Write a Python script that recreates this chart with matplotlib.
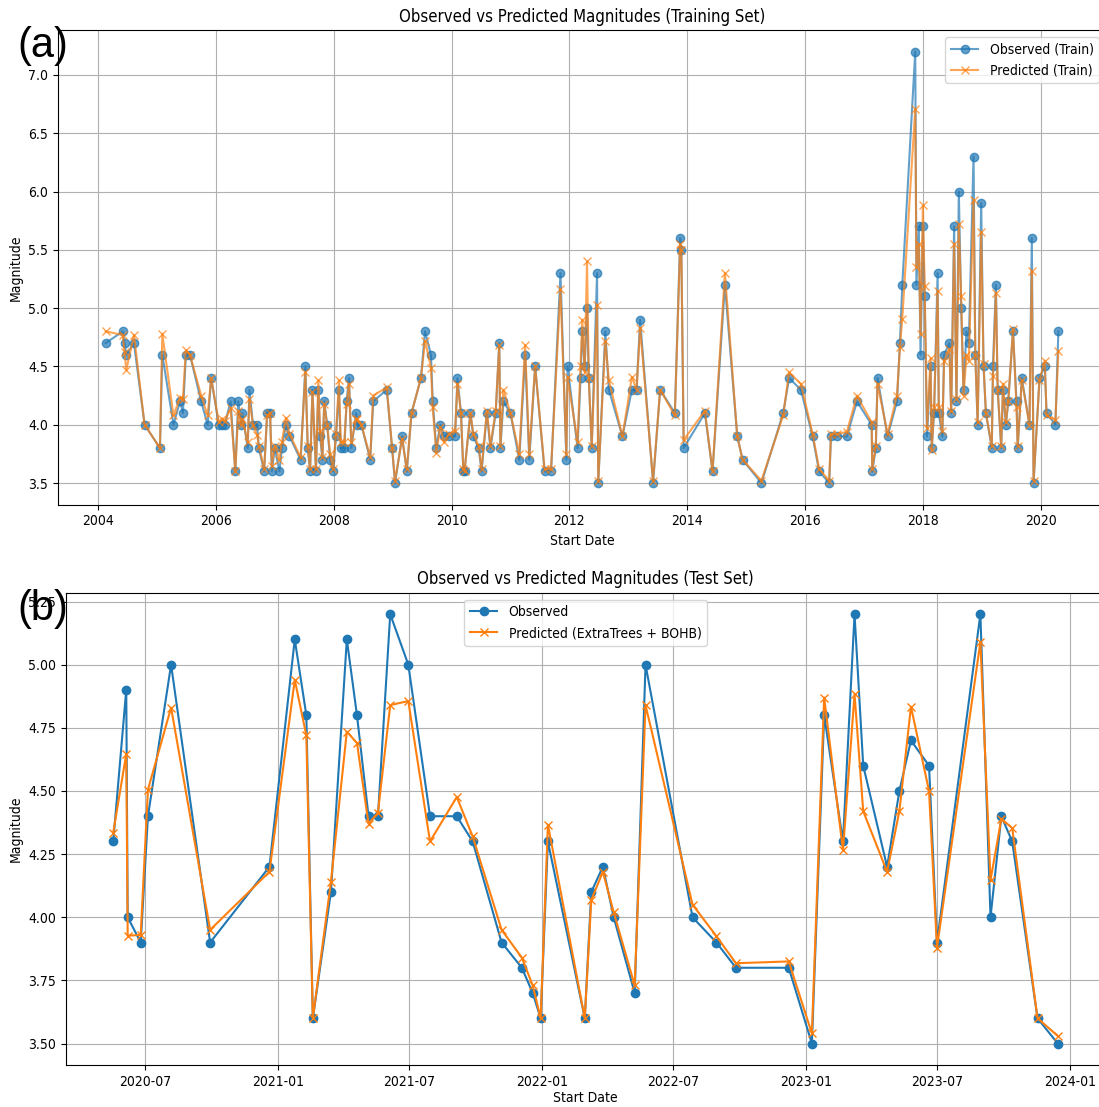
import matplotlib
matplotlib.use("Agg")
import matplotlib.pyplot as plt
import matplotlib.dates as mdates
import pandas as pd
import numpy as np

plt.rcParams['font.family'] = ['DejaVu Sans']
plt.rcParams['font.stretch'] = 'condensed'

# ---------------- Training set (decimal years) ----------------
train_year = [
    2004.13, 2004.42, 2004.45, 2004.48, 2004.61, 2004.79, 2005.05, 2005.09, 2005.28, 2005.39,
    2005.44, 2005.49, 2005.56, 2005.75, 2005.86, 2005.92, 2006.05, 2006.10, 2006.15, 2006.25,
    2006.33, 2006.38, 2006.43, 2006.45, 2006.54, 2006.57, 2006.63, 2006.70, 2006.73, 2006.82,
    2006.87, 2006.92, 2006.95, 2007.00, 2007.08, 2007.12, 2007.19, 2007.25, 2007.44, 2007.52,
    2007.56, 2007.60, 2007.64, 2007.70, 2007.74, 2007.77, 2007.81, 2007.84, 2007.89, 2007.94,
    2007.99, 2008.04, 2008.09, 2008.12, 2008.18, 2008.22, 2008.26, 2008.30, 2008.38, 2008.40,
    2008.47, 2008.62, 2008.67, 2008.90, 2008.99, 2009.04, 2009.16, 2009.24, 2009.32, 2009.48,
    2009.55, 2009.65, 2009.68, 2009.74, 2009.81, 2009.87, 2009.95, 2010.06, 2010.10, 2010.16,
    2010.20, 2010.22, 2010.32, 2010.37, 2010.46, 2010.51, 2010.60, 2010.66, 2010.75, 2010.81,
    2010.83, 2010.88, 2011.00, 2011.15, 2011.25, 2011.32, 2011.42, 2011.58, 2011.69, 2011.85,
    2011.95, 2011.97, 2012.14, 2012.19, 2012.22, 2012.26, 2012.30, 2012.33, 2012.38, 2012.47,
    2012.49, 2012.61, 2012.67, 2012.90, 2013.06, 2013.14, 2013.20, 2013.42, 2013.54, 2013.79,
    2013.88, 2013.90, 2013.94, 2014.30, 2014.43, 2014.64, 2014.85, 2014.94, 2015.26, 2015.63,
    2015.73, 2015.93, 2016.13, 2016.24, 2016.41, 2016.44, 2016.55, 2016.71, 2016.88, 2017.13,
    2017.14, 2017.20, 2017.23, 2017.40, 2017.56, 2017.61, 2017.65, 2017.87, 2017.89, 2017.93,
    2017.96, 2018.00, 2018.03, 2018.07, 2018.13, 2018.15, 2018.19, 2018.25, 2018.27, 2018.33,
    2018.36, 2018.45, 2018.48, 2018.53, 2018.57, 2018.61, 2018.65, 2018.69, 2018.74, 2018.78,
    2018.86, 2018.89, 2018.93, 2018.99, 2019.03, 2019.07, 2019.17, 2019.19, 2019.24, 2019.27,
    2019.33, 2019.36, 2019.41, 2019.45, 2019.53, 2019.59, 2019.61, 2019.68, 2019.81, 2019.85,
    2019.88, 2019.98, 2020.07, 2020.10, 2020.25, 2020.30,
]
train_obs = [
    4.7, 4.8, 4.7, 4.6, 4.7, 4.0, 3.8, 4.6, 4.0, 4.2,
    4.1, 4.6, 4.6, 4.2, 4.0, 4.4, 4.0, 4.0, 4.0, 4.2,
    3.6, 4.2, 4.0, 4.1, 3.8, 4.3, 4.0, 4.0, 3.8, 3.6,
    4.1, 4.1, 3.6, 3.8, 3.6, 3.8, 4.0, 3.9, 3.7, 4.5,
    3.8, 3.6, 4.3, 3.6, 4.3, 3.9, 3.7, 4.2, 4.0, 3.7,
    3.6, 3.9, 4.3, 3.8, 3.8, 4.2, 4.4, 3.8, 4.1, 4.0,
    4.0, 3.7, 4.2, 4.3, 3.8, 3.5, 3.9, 3.6, 4.1, 4.4,
    4.8, 4.6, 4.2, 3.8, 4.0, 3.9, 3.9, 3.9, 4.4, 4.1,
    3.6, 3.6, 4.1, 3.9, 3.8, 3.6, 4.1, 3.8, 4.1, 4.7,
    3.8, 4.2, 4.1, 3.7, 4.6, 3.7, 4.5, 3.6, 3.6, 5.3,
    3.7, 4.5, 3.8, 4.4, 4.8, 4.5, 5.0, 4.4, 3.8, 5.3,
    3.5, 4.8, 4.3, 3.9, 4.3, 4.3, 4.9, 3.5, 4.3, 4.1,
    5.6, 5.5, 3.8, 4.1, 3.6, 5.2, 3.9, 3.7, 3.5, 4.1,
    4.4, 4.3, 3.9, 3.6, 3.5, 3.9, 3.9, 3.9, 4.2, 4.0,
    3.6, 3.8, 4.4, 3.9, 4.2, 4.7, 5.2, 7.2, 5.2, 5.7,
    4.6, 5.7, 5.1, 3.9, 4.5, 3.8, 4.1, 5.3, 4.1, 3.9,
    4.6, 4.7, 4.1, 5.7, 4.2, 6.0, 5.0, 4.3, 4.8, 4.7,
    6.3, 4.6, 4.0, 5.9, 4.5, 4.1, 3.8, 4.5, 5.2, 4.3,
    3.8, 4.3, 4.0, 4.2, 4.8, 4.2, 3.8, 4.4, 4.0, 5.6,
    3.5, 4.4, 4.5, 4.1, 4.0, 4.8,
]
train_pred = [
    4.80, 4.77, 4.62, 4.47, 4.77, 4.00, 3.80, 4.78, 4.08, 4.23,
    4.22, 4.64, 4.60, 4.25, 4.08, 4.40, 4.02, 4.05, 4.03, 4.14,
    3.60, 4.12, 4.00, 4.05, 3.85, 4.22, 4.00, 3.91, 3.82, 3.62,
    4.08, 4.10, 3.65, 3.82, 3.70, 3.85, 4.06, 3.92, 3.72, 4.45,
    3.82, 3.62, 4.28, 3.62, 4.38, 3.95, 3.72, 4.18, 4.00, 3.75,
    3.62, 3.92, 4.38, 3.85, 3.85, 4.18, 4.35, 3.85, 4.05, 4.05,
    4.00, 3.72, 4.25, 4.32, 3.80, 3.52, 3.88, 3.62, 4.10, 4.40,
    4.72, 4.49, 4.15, 3.76, 3.98, 3.85, 3.92, 3.95, 4.35, 4.10,
    3.62, 3.60, 4.10, 3.92, 3.82, 3.62, 4.12, 3.82, 4.12, 4.68,
    3.82, 4.30, 4.10, 3.75, 4.68, 3.75, 4.50, 3.62, 3.62, 5.16,
    3.75, 4.41, 3.85, 4.50, 4.90, 4.45, 5.40, 4.40, 3.82, 5.03,
    3.52, 4.72, 4.38, 3.90, 4.41, 4.30, 4.83, 3.52, 4.30, 4.08,
    5.55, 5.50, 3.87, 4.12, 3.60, 5.30, 3.90, 3.70, 3.52, 4.08,
    4.45, 4.35, 3.92, 3.62, 3.52, 3.92, 3.92, 3.94, 4.25, 4.02,
    3.62, 3.82, 4.35, 3.92, 4.25, 4.67, 4.91, 6.71, 5.35, 5.55,
    4.78, 5.88, 5.19, 3.97, 4.57, 3.78, 4.15, 5.15, 4.15, 3.95,
    4.55, 4.65, 4.12, 5.55, 4.22, 5.72, 5.10, 4.25, 4.60, 4.55,
    5.93, 4.60, 4.02, 5.65, 4.52, 4.10, 3.82, 4.42, 5.13, 4.30,
    3.82, 4.35, 4.02, 4.20, 4.82, 4.15, 3.82, 4.38, 4.00, 5.32,
    3.52, 4.38, 4.55, 4.08, 4.04, 4.63,
]

# ---------------- Test set ----------------
test_dates = [
    "2020-05-18", "2020-06-05", "2020-06-07", "2020-06-25", "2020-07-05", "2020-08-06",
    "2020-09-29", "2020-12-20", "2021-01-24", "2021-02-09", "2021-02-18", "2021-03-15",
    "2021-04-06", "2021-04-20", "2021-05-06", "2021-05-19", "2021-06-05", "2021-06-30",
    "2021-07-30", "2021-09-05", "2021-09-27", "2021-11-06", "2021-12-04", "2021-12-19",
    "2021-12-30", "2022-01-09", "2022-03-01", "2022-03-10", "2022-03-26", "2022-04-10",
    "2022-05-09", "2022-05-24", "2022-07-28", "2022-08-30", "2022-09-26", "2022-12-08",
    "2023-01-09", "2023-01-26", "2023-02-21", "2023-03-09", "2023-03-21", "2023-04-23",
    "2023-05-10", "2023-05-26", "2023-06-20", "2023-07-01", "2023-08-30", "2023-09-13",
    "2023-09-28", "2023-10-13", "2023-11-17", "2023-12-15",
]
test_obs = [
    4.30, 4.90, 4.00, 3.90, 4.40, 5.00,
    3.90, 4.20, 5.10, 4.80, 3.60, 4.10,
    5.10, 4.80, 4.40, 4.40, 5.20, 5.00,
    4.40, 4.40, 4.30, 3.90, 3.80, 3.70,
    3.60, 4.30, 3.60, 4.10, 4.20, 4.00,
    3.70, 5.00, 4.00, 3.90, 3.80, 3.80,
    3.50, 4.80, 4.30, 5.20, 4.60, 4.20,
    4.50, 4.70, 4.60, 3.90, 5.20, 4.00,
    4.40, 4.30, 3.60, 3.50,
]
test_pred = [
    4.335, 4.646, 3.927, 3.930, 4.505, 4.830,
    3.950, 4.180, 4.940, 4.720, 3.600, 4.140,
    4.735, 4.690, 4.370, 4.414, 4.840, 4.856,
    4.300, 4.476, 4.320, 3.950, 3.840, 3.730,
    3.600, 4.367, 3.600, 4.068, 4.180, 4.020,
    3.730, 4.840, 4.050, 3.925, 3.818, 3.825,
    3.540, 4.870, 4.265, 4.883, 4.420, 4.180,
    4.420, 4.834, 4.500, 3.880, 5.090, 4.147,
    4.390, 4.353, 3.600, 3.530,
]


def year_to_date(y):
    yr = int(np.floor(y))
    start = pd.Timestamp(year=yr, month=1, day=1)
    end = pd.Timestamp(year=yr + 1, month=1, day=1)
    return start + (end - start) * (y - yr)


train_x = [year_to_date(y) for y in train_year]
test_x = pd.to_datetime(test_dates)

W, H = 1099, 1107
fig = plt.figure(figsize=(W / 100, H / 100), dpi=100)

# --- (a) training set ---
ax1 = fig.add_axes([58 / W, 1 - 504.6 / H, (1106 - 58) / W, (504.6 - 30) / H])
ax1.plot(train_x, train_obs, marker='o', label='Observed (Train)', alpha=0.7)
ax1.plot(train_x, train_pred, marker='x', label='Predicted (Train)', alpha=0.7)
ax1.set_title('Observed vs Predicted Magnitudes (Training Set)')
ax1.set_xlabel('Start Date')
ax1.set_ylabel('Magnitude')
ax1.grid(True)
ax1.legend(loc='upper right')
ax1.xaxis.set_major_locator(mdates.YearLocator(2))
ax1.xaxis.set_major_formatter(mdates.DateFormatter('%Y'))

# --- (b) test set ---
ax2 = fig.add_axes([66 / W, 1 - 1065 / H, (1105 - 66) / W, (1065 - 592.7) / H])
ax2.plot(test_x, test_obs, marker='o', label='Observed')
ax2.plot(test_x, test_pred, marker='x', label='Predicted (ExtraTrees + BOHB)')
ax2.set_title('Observed vs Predicted Magnitudes (Test Set)')
ax2.set_xlabel('Start Date', labelpad=2)
ax2.set_ylabel('Magnitude')
ax2.grid(True)
ax2.legend(loc='upper center')
ax2.xaxis.set_major_locator(mdates.MonthLocator(bymonth=[1, 7]))
ax2.xaxis.set_major_formatter(mdates.DateFormatter('%Y-%m'))

fig.text(17 / W, 1 - 46 / H, '(a)', fontsize=30, family='Liberation Sans',
         va='center', ha='left')
fig.text(17 / W, 1 - 609 / H, '(b)', fontsize=30, family='Liberation Sans',
         va='center', ha='left')

fig.savefig('out.png', dpi=100)
